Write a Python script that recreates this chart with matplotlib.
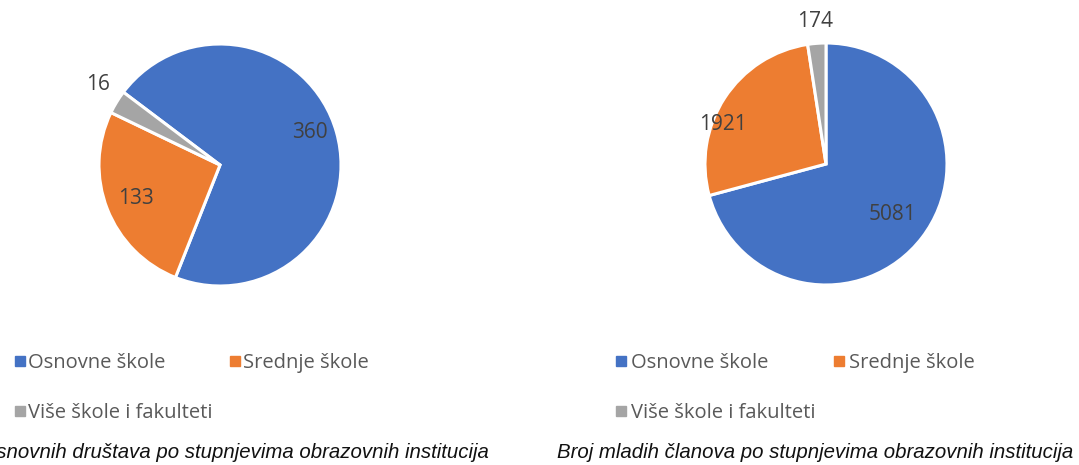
import numpy as np
import matplotlib
matplotlib.use("Agg")
import matplotlib.pyplot as plt
from matplotlib.lines import Line2D

categories = ["Osnovne škole", "Srednje škole", "Više škole i fakulteti"]
left_values = [360, 133, 16]
right_values = [5081, 1921, 174]
left_caption = "Broj osnovnih društava po stupnjevima obrazovnih institucija"
right_caption = "Broj mladih članova po stupnjevima obrazovnih institucija"

colors = ["#4472C4", "#ED7D31", "#A5A5A5"]
W, H = 1079, 465

fig = plt.figure(figsize=(W / 100, H / 100), dpi=100)


def pie_axes(cx, cy, r):
    # pixel centre / radius -> figure axes
    return fig.add_axes([(cx - r) / W, (H - cy - r) / H, 2 * r / W, 2 * r / H])


def draw_pie(ax, values, start, dists, shifts):
    wedges, _ = ax.pie(values, colors=colors, startangle=start, counterclock=False,
                       wedgeprops=dict(edgecolor="white", linewidth=2.2))
    for w, v, d, s in zip(wedges, values, dists, shifts):
        ang = np.deg2rad((w.theta1 + w.theta2) / 2 + s)
        ax.text(d * np.cos(ang), d * np.sin(ang), str(v), ha="center", va="center",
                fontsize=15, color="#404040", family="Open Sans")
    ax.set_xlim(-1, 1)
    ax.set_ylim(-1, 1)
    ax.set_aspect("equal")
    ax.axis("off")


ax1 = pie_axes(220, 165, 121)
draw_pie(ax1, left_values, 143, [0.79, 0.75, 1.21], [4, 0, -2])
ax2 = pie_axes(826, 164, 121)
draw_pie(ax2, right_values, 90, [0.69, 0.91, 1.18], [0, 12, 0])

handles = [Line2D([], [], marker="s", linestyle="none", markersize=6.5,
                  markerfacecolor=c, markeredgecolor=c) for c in colors]
# legend fills column-wise, so order for row-wise layout
order = [0, 2, 1]

for x0, pad, colsp in ((15 / W, 0.15, 0.85), (616 / W, 0.25, 0.9)):
    leg = fig.legend([handles[i] for i in order], [categories[i] for i in order],
                     loc="upper left", bbox_to_anchor=(x0, 1 - 353 / H),
                     ncol=2, frameon=False, borderpad=0, borderaxespad=0,
                     handlelength=0.5, handletextpad=pad,
                     columnspacing=colsp, labelspacing=1.48,
                     prop=dict(family="Open Sans", size=14.5))
    for t in leg.get_texts():
        t.set_color("#595959")

# left chart is cropped in the source, its caption runs off the left edge
fig.text(489 / W, 1 - 452 / H, left_caption, ha="right", va="center", style="italic",
         fontsize=14.7, family="Liberation Sans", color="#111111")
fig.text(1073 / W, 1 - 452 / H, right_caption, ha="right", va="center", style="italic",
         fontsize=14.7, family="Liberation Sans", color="#111111")

fig.savefig("out.png", dpi=100)
